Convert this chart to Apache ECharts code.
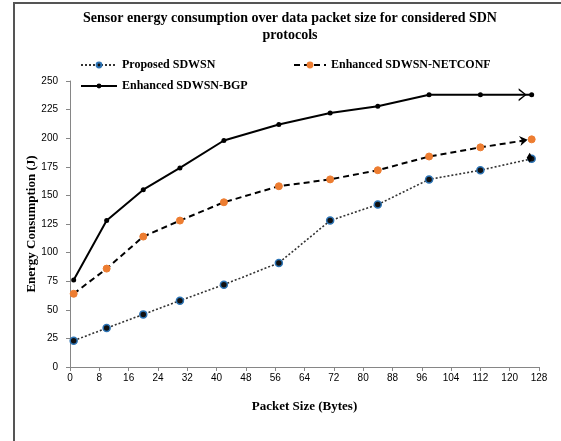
<!DOCTYPE html>
<html><head><meta charset="utf-8">
<script src="https://cdn.jsdelivr.net/npm/echarts@6/dist/echarts.min.js"></script>
<style>html,body{margin:0;padding:0;background:#fff}#c{width:561px;height:441px}</style>
</head><body><div id="c"></div>
<script>
// ---- data ----
const packetSize = [1, 10, 20, 30, 42, 57, 71, 84, 98, 112, 126];
const proposedSDWSN = [23, 34, 46, 58, 72, 91, 128, 142, 164, 172, 182];
const netconfSDWSN = [64, 86, 114, 128, 144, 158, 164, 172, 184, 192, 199];
const bgpSDWSN = [76, 128, 155, 174, 198, 212, 222, 228, 238, 238, 238];
const seriesNames = ['Proposed SDWSN', 'Enhanced SDWSN-NETCONF', 'Enhanced SDWSN-BGP'];
const titleText = 'Sensor energy consumption over data packet size for considered SDN\nprotocols';
const xName = 'Packet Size (Bytes)';
const yName = 'Energy Consumption (J)';

const serif = '"Liberation Serif", "Times New Roman", serif';
const sans = '"Liberation Sans", Arial, sans-serif';
const pairs = v => packetSize.map((x, i) => [x, v[i]]);
const last = v => [packetSize[packetSize.length - 1], v[v.length - 1]];

const chart = echarts.init(document.getElementById('c'), null, {renderer: 'canvas'});
const legendText = {fontFamily: serif, fontWeight: 'bold', fontSize: 12, color: '#000'};
const legendBase = {padding: 0, itemHeight: 6, itemGap: 0, textStyle: legendText};
chart.setOption({
  animation: false,
  backgroundColor: '#fff',
  graphic: [{type: 'polyline', shape: {points: [[14, 445], [14, 3], [565, 3]]},
    style: {stroke: '#555', lineWidth: 2, fill: null}, silent: true}],
  title: {
    text: titleText, left: 290, top: 10, textAlign: 'center', padding: 0,
    textStyle: {fontFamily: serif, fontWeight: 'bold', fontSize: 14, lineHeight: 17, color: '#000'}
  },
  legend: [
    Object.assign({data: [seriesNames[0]], left: 80, top: 59, itemWidth: 36}, legendBase),
    Object.assign({data: [seriesNames[1]], left: 293, top: 59, itemWidth: 32}, legendBase),
    Object.assign({data: [seriesNames[2]], left: 80, top: 80, itemWidth: 36}, legendBase)
  ],
  grid: {left: 70, top: 81, right: 22, bottom: 74, containLabel: false},
  xAxis: {
    type: 'value', min: 0, max: 128, interval: 8,
    name: xName, nameLocation: 'middle', nameGap: 33,
    nameTextStyle: {fontFamily: serif, fontWeight: 'bold', fontSize: 13, color: '#000'},
    axisLine: {show: true, lineStyle: {color: '#868686', width: 1}},
    axisTick: {show: true, length: 4, lineStyle: {color: '#868686'}},
    axisLabel: {fontFamily: sans, fontSize: 10, color: '#000', margin: 6},
    splitLine: {show: false}
  },
  yAxis: {
    type: 'value', min: 0, max: 250, interval: 25,
    name: yName, nameLocation: 'middle', nameGap: 32, nameMoveOverlap: false,
    nameTextStyle: {fontFamily: serif, fontWeight: 'bold', fontSize: 13, color: '#000'},
    axisLine: {show: true, lineStyle: {color: '#868686', width: 1}},
    axisTick: {show: true, length: 4, lineStyle: {color: '#868686'}},
    axisLabel: {fontFamily: sans, fontSize: 10, color: '#000', margin: 12},
    splitLine: {show: false}
  },
  series: [
    {
      name: seriesNames[0], type: 'line', data: pairs(proposedSDWSN), z: 3,
      symbol: 'circle', symbolSize: 7,
      lineStyle: {color: '#333', width: 1.6, type: [2, 2]},
      itemStyle: {color: '#111', borderColor: '#2E75B6', borderWidth: 1.5},
      markPoint: {silent: true, label: {show: false}, data: [{coord: last(proposedSDWSN), symbol: 'diamond', symbolSize: [6, 10], symbolOffset: [-2, -1], itemStyle: {color: '#000', borderWidth: 0}}]}
    },
    {
      name: seriesNames[1], type: 'line', data: pairs(netconfSDWSN), z: 3,
      symbol: 'circle', symbolSize: 7,
      lineStyle: {color: '#000', width: 2, type: [6, 4]},
      itemStyle: {color: '#ED7D31', borderColor: '#ED7D31', borderWidth: 1},
      markPoint: {silent: true, label: {show: false}, data: [{coord: last(netconfSDWSN), symbol: 'path://M0,0 L10,5 L0,10 L3,5 Z', symbolSize: [8, 10], symbolRotate: 9, symbolOffset: [-8, 1], itemStyle: {color: '#000', borderWidth: 0}}]}
    },
    {
      name: seriesNames[2], type: 'line', data: pairs(bgpSDWSN), z: 3,
      symbol: 'circle', symbolSize: 5,
      lineStyle: {color: '#000', width: 2, type: 'solid'},
      itemStyle: {color: '#000', borderWidth: 0},
      markPoint: {silent: true, label: {show: false}, data: [{coord: last(bgpSDWSN), symbol: 'path://M0,0 L10,6 L0,12 L0,10.2 L7.6,6 L0,1.8 Z', symbolSize: [8, 13], symbolOffset: [-9, 0], itemStyle: {color: '#000', borderWidth: 0}}]}
    }
  ]
});
</script></body></html>
